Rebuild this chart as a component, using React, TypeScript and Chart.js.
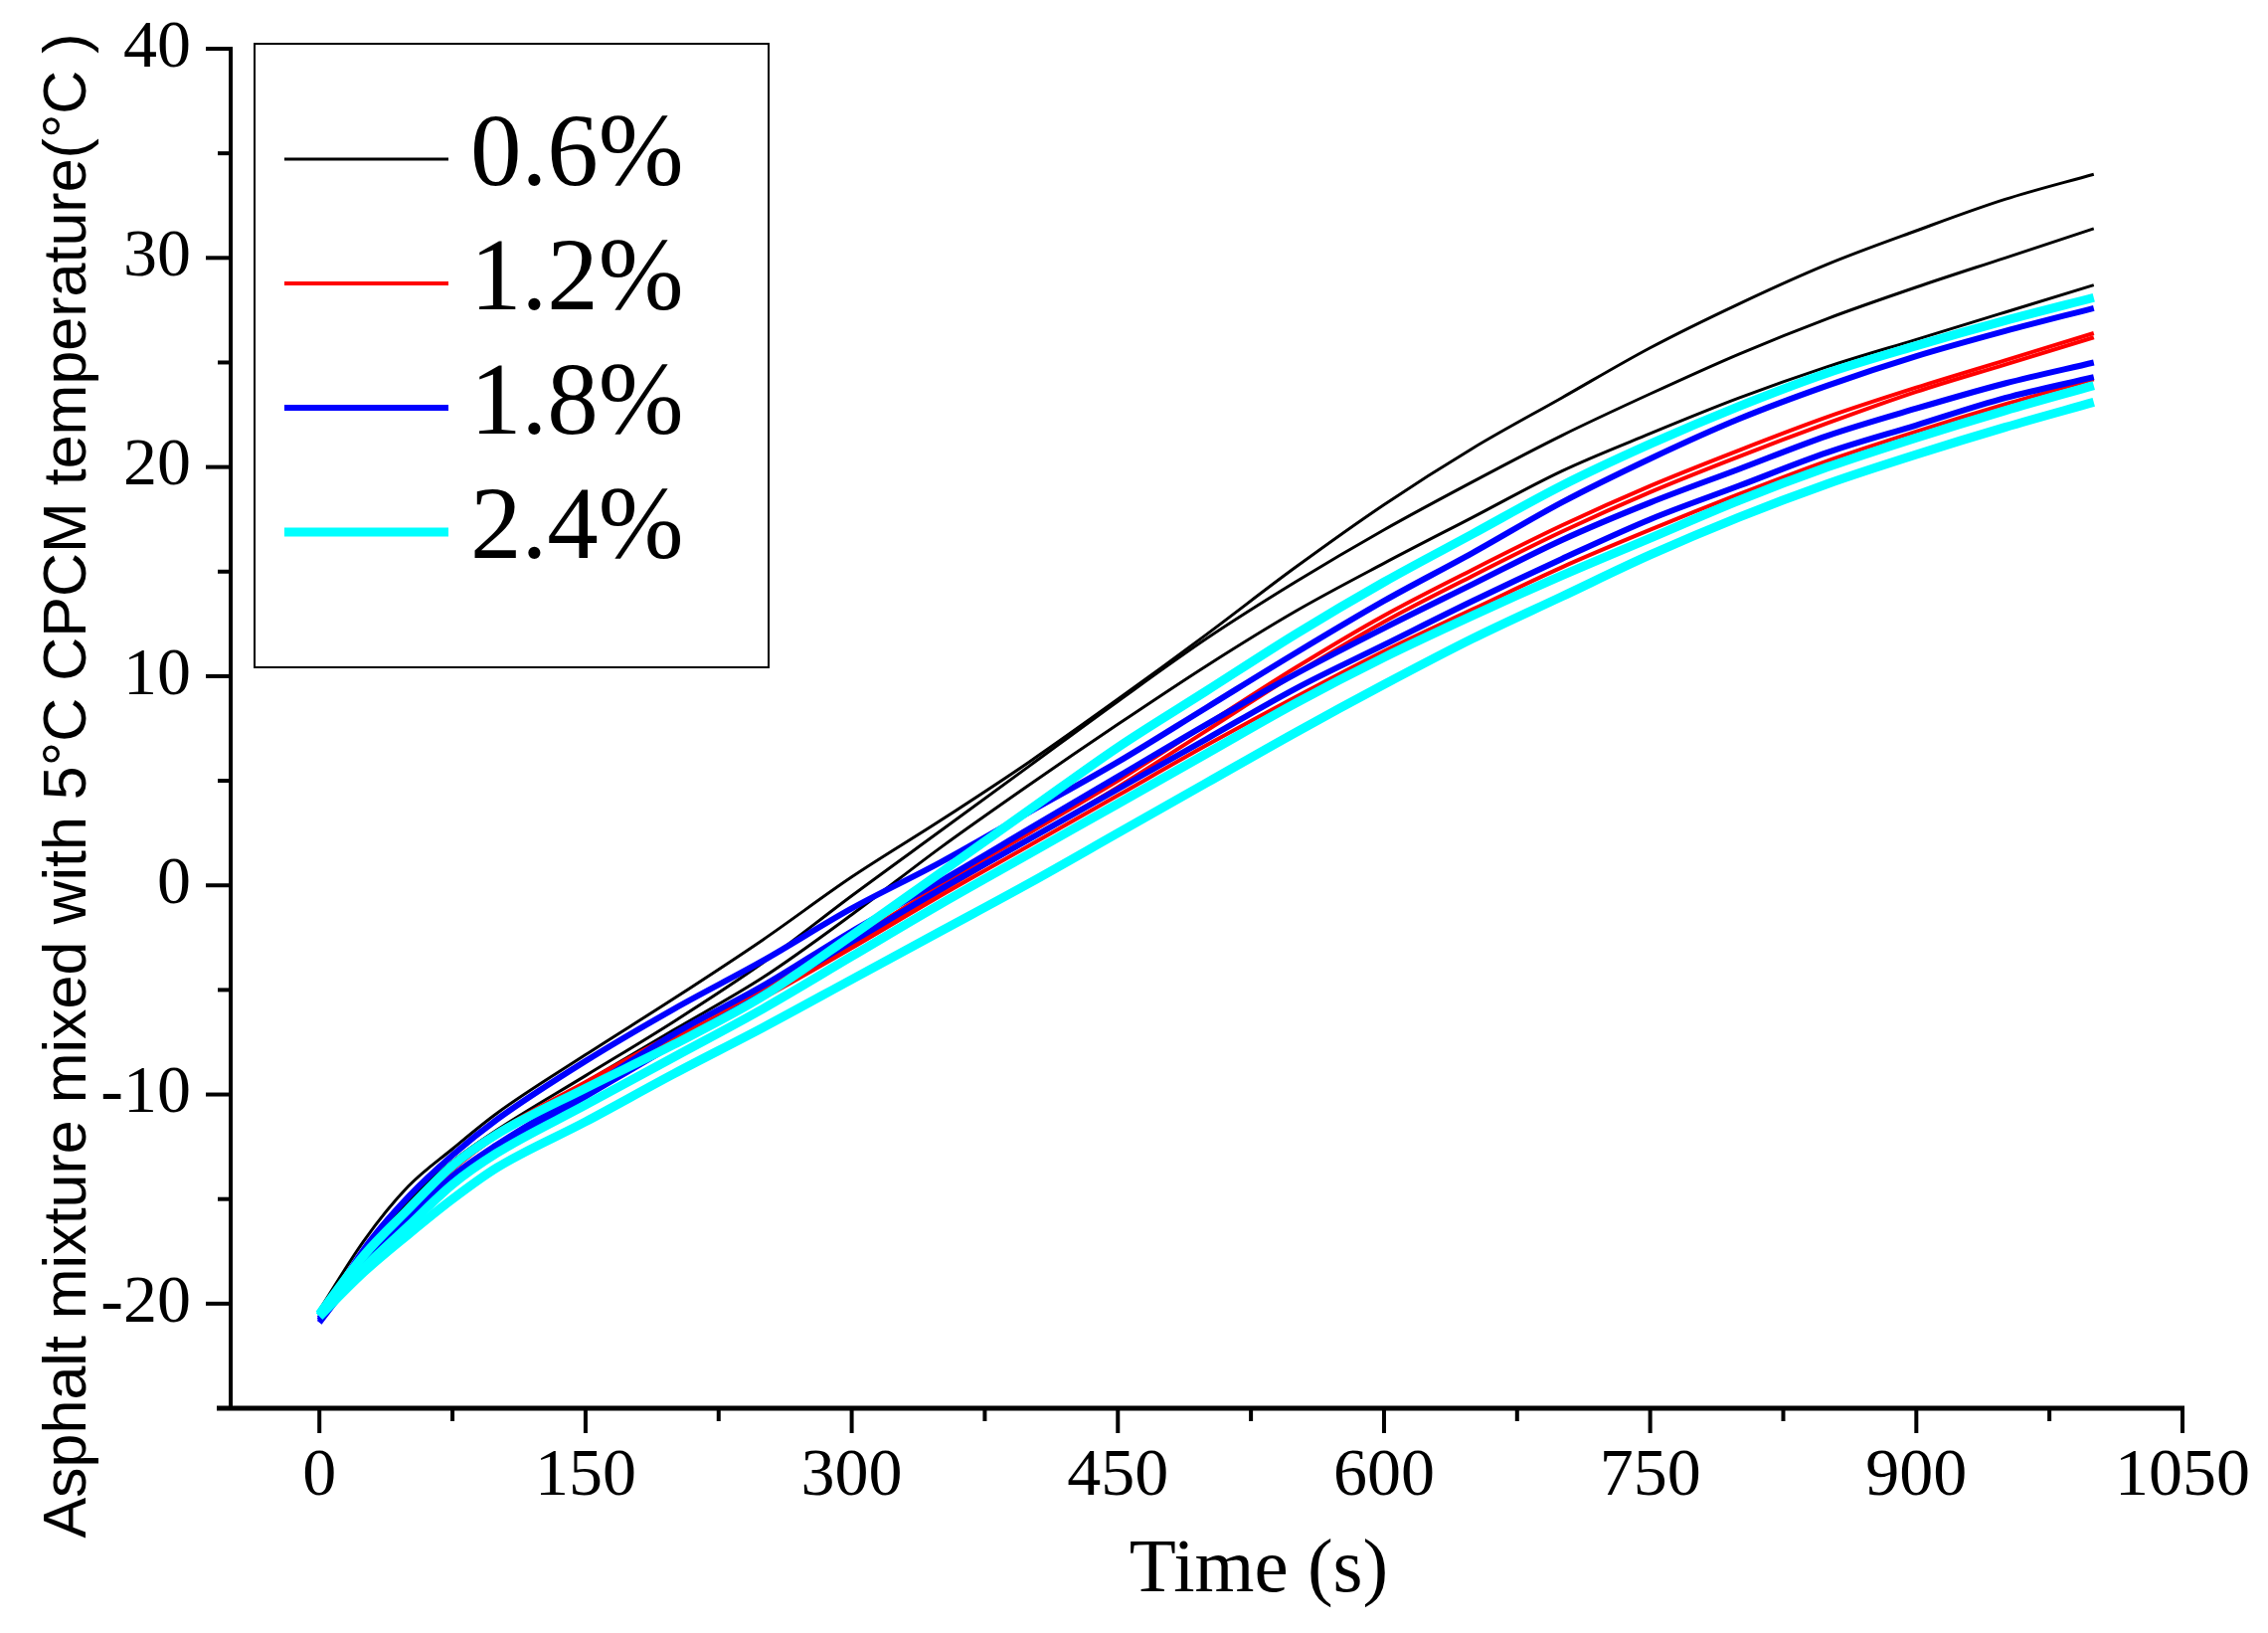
import React, { useEffect, useRef } from 'react';
import { Chart, registerables } from 'chart.js';

Chart.register(...registerables);

// time axis (s) shared by every curve
const timeValues = [0, 25, 50, 75, 100, 150, 200, 250, 300, 350, 400, 450, 500, 550, 600, 650, 700, 750, 800, 850, 900, 950, 1000];

// 0.6 % CPCM
const black1 = [-20.3, -17.0, -14.4, -12.6, -10.9, -8.1, -5.4, -2.6, 0.4, 3.1, 5.9, 8.9, 12.0, 15.2, 18.2, 20.9, 23.3, 25.7, 27.8, 29.7, 31.3, 32.8, 34.0];
const black2 = [-20.4, -17.6, -15.1, -13.2, -11.7, -9.1, -6.5, -3.7, -0.5, 2.6, 5.7, 8.8, 11.8, 14.5, 17.0, 19.3, 21.5, 23.5, 25.4, 27.1, 28.6, 30.0, 31.4];
const black3 = [-20.5, -17.8, -15.4, -13.4, -11.9, -9.4, -6.9, -4.4, -1.4, 1.8, 4.8, 7.7, 10.5, 13.1, 15.4, 17.6, 19.8, 21.6, 23.3, 24.8, 26.1, 27.4, 28.7];
// 1.2 % CPCM
const red1 = [-20.5, -17.6, -15.4, -13.4, -11.8, -9.4, -7.1, -5.0, -2.6, 0.0, 2.5, 5.0, 7.7, 10.4, 12.9, 15.1, 17.2, 19.1, 20.8, 22.4, 23.8, 25.1, 26.4];
const red2 = [-20.6, -17.8, -15.6, -13.6, -12.0, -9.6, -7.3, -5.2, -2.9, -0.3, 2.2, 4.7, 7.4, 10.1, 12.6, 14.8, 16.9, 18.8, 20.5, 22.1, 23.6, 24.9, 26.2];
const red3 = [-20.6, -18.0, -15.8, -14.0, -12.4, -10.0, -7.6, -5.4, -3.0, -0.5, 1.9, 4.3, 6.7, 9.0, 11.2, 13.2, 15.2, 17.0, 18.7, 20.3, 21.7, 23.0, 24.2];
// 1.8 % CPCM
const blue1 = [-20.8, -17.4, -14.9, -12.9, -11.2, -8.4, -5.9, -3.6, -1.1, 1.1, 3.5, 5.9, 8.5, 11.1, 13.6, 15.9, 18.3, 20.4, 22.3, 23.9, 25.3, 26.5, 27.6];
const blue2 = [-20.7, -18.0, -15.9, -13.9, -12.4, -9.8, -7.1, -4.8, -2.2, 0.2, 2.7, 5.2, 7.7, 10.1, 12.3, 14.4, 16.5, 18.3, 19.9, 21.5, 22.8, 24.0, 25.0];
const blue3 = [-20.9, -18.2, -16.0, -14.1, -12.6, -10.1, -7.6, -5.2, -2.7, -0.2, 2.2, 4.6, 7.0, 9.4, 11.5, 13.6, 15.6, 17.5, 19.1, 20.7, 22.0, 23.3, 24.3];
// 2.4 % CPCM
const cyan1 = [-20.5, -17.7, -15.5, -13.4, -11.9, -9.7, -7.6, -5.3, -2.4, 0.6, 3.6, 6.6, 9.3, 12.0, 14.5, 16.8, 19.1, 21.1, 22.9, 24.5, 25.8, 27.0, 28.1];
const cyan2 = [-20.6, -18.3, -16.3, -14.3, -12.8, -10.5, -8.2, -5.9, -3.4, -0.9, 1.5, 3.9, 6.3, 8.7, 10.9, 12.9, 14.8, 16.6, 18.4, 20.0, 21.4, 22.7, 23.9];
const cyan3 = [-20.6, -18.5, -16.7, -15.0, -13.5, -11.3, -9.0, -6.8, -4.5, -2.2, 0.1, 2.5, 4.9, 7.3, 9.6, 11.8, 13.8, 15.8, 17.6, 19.2, 20.6, 21.9, 23.1];

const legendLabels = ['0.6%', '1.2%', '1.8%', '2.4%'];
const groupCurves = [
    [black1, black2, black3],
    [red1, red2, red3],
    [blue1, blue2, blue3],
    [cyan1, cyan2, cyan3],
];

const xTicks = [0, 150, 300, 450, 600, 750, 900, 1050];
const xMinorTicks = [75, 225, 375, 525, 675, 825, 975];
const yTicks = [-20, -10, 0, 10, 20, 30, 40];
const yMinorTicks = [-15, -5, 5, 15, 25, 35];

const xTitle = 'Time (s)';
const yTitle = 'Asphalt mixture mixed with 5°C CPCM temperature(°C )';

const groupStyles = [
    { color: '#000000', width: 3 },
    { color: '#ff0000', width: 4 },
    { color: '#0000ff', width: 6 },
    { color: '#00ffff', width: 9 },
];

const SERIF = '"Liberation Serif", "Times New Roman", serif';
const SANS = '"Liberation Sans", Arial, sans-serif';

const framePlugin = {
    id: 'frame',
    afterDatasetsDraw(chart: any) {
        const { ctx, chartArea, scales } = chart;
        const x = scales.x;
        const y = scales.y;
        const left = chartArea.left;
        const bottom = chartArea.bottom;
        ctx.save();
        ctx.strokeStyle = '#000';
        ctx.lineCap = 'butt';

        // axes
        ctx.lineWidth = 4;
        ctx.beginPath();
        ctx.moveTo(left, y.getPixelForValue(40) - 2);
        ctx.lineTo(left, bottom);
        ctx.stroke();
        ctx.lineWidth = 5;
        ctx.beginPath();
        ctx.moveTo(left - 14, bottom);
        ctx.lineTo(x.getPixelForValue(1050) + 2, bottom);
        ctx.stroke();

        // ticks
        ctx.lineWidth = 4;
        xTicks.forEach(v => {
            const px = x.getPixelForValue(v);
            ctx.beginPath();
            ctx.moveTo(px, bottom);
            ctx.lineTo(px, bottom + 25);
            ctx.stroke();
        });
        xMinorTicks.forEach(v => {
            const px = x.getPixelForValue(v);
            ctx.beginPath();
            ctx.moveTo(px, bottom);
            ctx.lineTo(px, bottom + 13);
            ctx.stroke();
        });
        yTicks.forEach(v => {
            const py = y.getPixelForValue(v);
            ctx.beginPath();
            ctx.moveTo(left, py);
            ctx.lineTo(left - 25, py);
            ctx.stroke();
        });
        yMinorTicks.forEach(v => {
            const py = y.getPixelForValue(v);
            ctx.beginPath();
            ctx.moveTo(left, py);
            ctx.lineTo(left - 13, py);
            ctx.stroke();
        });

        // legend box
        const boxLeft = left + 24;
        const boxTop = chartArea.top - 5;
        ctx.lineWidth = 2;
        ctx.strokeRect(boxLeft, boxTop, 517, 627);
        ctx.font = `103px ${SERIF}`;
        ctx.fillStyle = '#000';
        ctx.textAlign = 'left';
        ctx.textBaseline = 'alphabetic';
        legendLabels.forEach((label, i) => {
            const rowY = boxTop + 116 + i * 125;
            ctx.strokeStyle = groupStyles[i].color;
            ctx.lineWidth = groupStyles[i].width;
            ctx.beginPath();
            ctx.moveTo(boxLeft + 30, rowY);
            ctx.lineTo(boxLeft + 195, rowY);
            ctx.stroke();
            ctx.fillText(label, boxLeft + 217, rowY + 26);
        });

        // axis titles
        ctx.fillStyle = '#000';
        ctx.font = `77px ${SERIF}`;
        ctx.textAlign = 'center';
        ctx.fillText(xTitle, 1266, 1600);

        ctx.translate(86, 790);
        ctx.rotate(-Math.PI / 2);
        ctx.font = `61px ${SANS}`;
        ctx.fillText(yTitle, 0, 0);
        ctx.restore();
    },
};

const TemperatureChart: React.FC = () => {
    const canvasRef = useRef<HTMLCanvasElement | null>(null);

    useEffect(() => {
        if (!canvasRef.current) return;

        const datasets: any[] = [];
        groupCurves.forEach((curves, g) => {
            curves.forEach(values => {
                datasets.push({
                    label: legendLabels[g],
                    data: values.map((v, i) => ({ x: timeValues[i], y: v })),
                    borderColor: groupStyles[g].color,
                    borderWidth: groupStyles[g].width,
                    pointRadius: 0,
                    fill: false,
                    cubicInterpolationMode: 'monotone',
                    // later groups sit on top
                    order: 3 - g,
                });
            });
        });

        const chart = new Chart(canvasRef.current, {
            type: 'line',
            data: { datasets },
            plugins: [framePlugin],
            options: {
                animation: false,
                responsive: false,
                devicePixelRatio: 1,
                layout: { padding: { top: 49, right: 86, left: 0, bottom: 0 } },
                plugins: {
                    legend: { display: false },
                    tooltip: { enabled: false },
                },
                scales: {
                    x: {
                        type: 'linear',
                        min: -50,
                        max: 1050,
                        afterBuildTicks: (scale: any) => {
                            scale.ticks = xTicks.map(v => ({ value: v }));
                        },
                        afterFit: (scale: any) => {
                            scale.height = 226;
                            scale.paddingLeft = 0;
                            scale.paddingRight = 0;
                        },
                        grid: { display: false, drawTicks: false },
                        border: { display: false },
                        ticks: {
                            autoSkip: false,
                            maxRotation: 0,
                            padding: 28,
                            color: '#000',
                            font: { family: SERIF, size: 68 },
                            callback: (value: any) => String(value),
                        },
                    },
                    y: {
                        type: 'linear',
                        min: -25,
                        max: 40,
                        afterBuildTicks: (scale: any) => {
                            scale.ticks = yTicks.map(v => ({ value: v }));
                        },
                        afterFit: (scale: any) => {
                            scale.width = 232;
                            scale.paddingTop = 0;
                            scale.paddingBottom = 0;
                        },
                        grid: { display: false, drawTicks: false },
                        border: { display: false },
                        ticks: {
                            autoSkip: false,
                            padding: 40,
                            color: '#000',
                            font: { family: SERIF, size: 68 },
                            callback: (value: any) => String(value),
                        },
                    },
                },
            },
        });

        return () => {
            chart.destroy();
        };
    }, []);

    return (
        <div style={{ position: 'absolute', left: 0, top: 0, width: 2281, height: 1642, background: '#fff' }}>
            <canvas ref={canvasRef} width={2281} height={1642} style={{ display: 'block' }}></canvas>
        </div>
    );
};

export default function App() {
    return <TemperatureChart />;
}
